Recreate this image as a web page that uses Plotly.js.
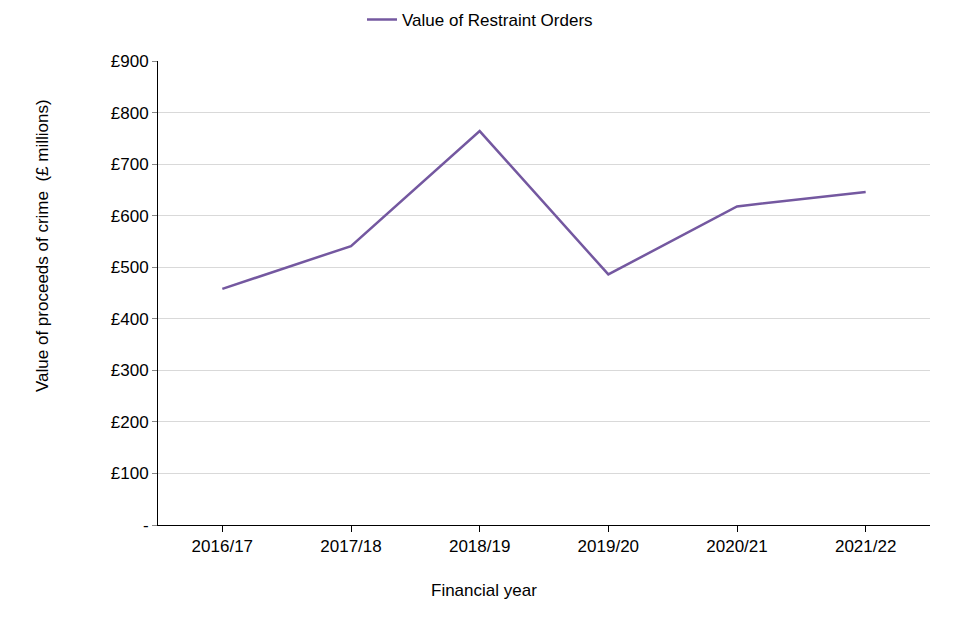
<!DOCTYPE html>
<html>
<head>
<meta charset="utf-8">
<script src="https://cdn.plot.ly/plotly-3.0.1.min.js"></script>
<style>html,body{margin:0;padding:0;background:#fff;}#chart{width:960px;height:640px;}</style>
</head>
<body>
<div id="chart"></div>
<script>
var years = ["2016/17", "2017/18", "2018/19", "2019/20", "2020/21", "2021/22"];
var restraintValues = [458, 541, 764, 486, 618, 646];
var yTickVals = [0, 100, 200, 300, 400, 500, 600, 700, 800, 900];
var yTickText = ["-", "£100", "£200", "£300", "£400", "£500", "£600", "£700", "£800", "£900"];
var xTitle = "Financial year";
var yTitle = "Value of proceeds of crime  (£ millions)";

var font = "Liberation Sans, Arial, sans-serif";
Plotly.newPlot("chart", [{
  x: years,
  y: restraintValues,
  type: "scatter",
  mode: "lines",
  name: "Value of Restraint Orders",
  line: {color: "#7458a0", width: 2.5}
}], {
  width: 960, height: 640,
  margin: {l: 158, r: 30, t: 61, b: 115, autoexpand: false},
  paper_bgcolor: "#fff", plot_bgcolor: "#fff",
  font: {family: font, size: 17, color: "#000"},
  showlegend: true,
  legend: {orientation: "h", xref: "container", yref: "container", x: 0.5, xanchor: "center", y: 0.969, yanchor: "middle", font: {size: 17}},
  xaxis: {
    type: "category", range: [-0.5, 5.5],
    showline: true, linecolor: "#000", linewidth: 1,
    ticks: "outside", ticklen: 6, tickcolor: "#000",
    showgrid: false, zeroline: false,
    tickfont: {size: 17}
  },
  yaxis: {
    range: [0, 900],
    tickvals: yTickVals, ticktext: yTickText,
    showline: true, linecolor: "#000", linewidth: 1,
    ticks: "outside", ticklen: 5, tickcolor: "#888",
    showgrid: true, gridcolor: "#d9d9d9", gridwidth: 1,
    zeroline: false,
    tickfont: {size: 17}
  },
  annotations: [
    {text: xTitle, xref: "paper", yref: "paper", x: 0.4223, y: -0.1422, xanchor: "center", yanchor: "middle", showarrow: false, font: {size: 17}},
    {text: yTitle, xref: "paper", yref: "paper", x: -0.1503, y: 0.6034, xanchor: "center", yanchor: "middle", textangle: -90, showarrow: false, font: {size: 17}}
  ]
}, {displayModeBar: false, staticPlot: true});
</script>
</body>
</html>
